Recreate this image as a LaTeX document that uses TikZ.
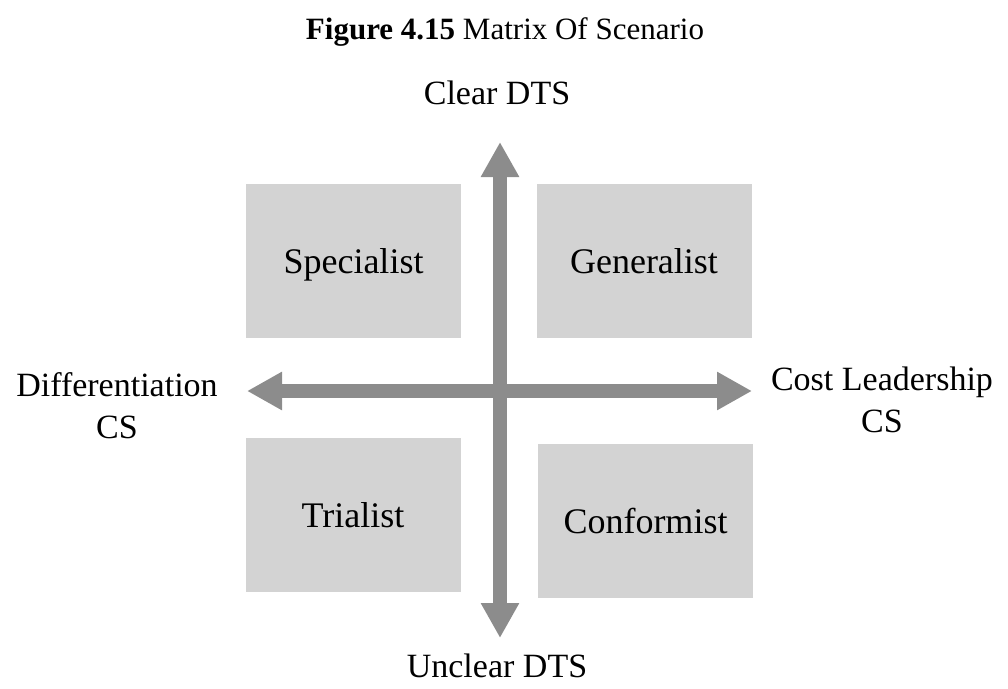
\documentclass[tikz,border=0pt]{standalone}
\usepackage{fontspec}
\setmainfont{Liberation Serif}
\usetikzlibrary{arrows.meta}

\definecolor{boxgray}{RGB}{211,211,211}
\definecolor{axisgray}{RGB}{140,140,140}

\tikzset{
  quadrant/.style={fill=boxgray, draw=none, minimum width=215pt, minimum height=154pt,
    inner sep=0pt, text height=24pt, text depth=0pt, font=\fontsize{36}{42}\selectfont},
  axislabel/.style={font=\fontsize{34}{42}\selectfont, align=center, inner sep=0pt},
  axisline/.style={draw=axisgray, line width=14pt,
    arrows={Triangle[length=35pt, width=36pt, fill=axisgray]-Triangle[length=35pt, width=36pt, fill=axisgray]}},
}

\begin{document}
\begin{tikzpicture}[x=1pt, y=-1pt]
  \useasboundingbox (0,0) rectangle (1008,688);

  % caption
  \node[anchor=base, inner sep=0pt, font=\fontsize{31}{36}\selectfont] (caption) at (505,39)
    {\textbf{Figure 4.15} Matrix Of Scenario};

  % the four quadrants
  \node[quadrant] (specialist) at (353.5,261) {Specialist};
  \node[quadrant] (generalist) at (644,261) {Generalist};
  \node[quadrant] (trialist)   at (353,515) {Trialist};
  \node[quadrant] (conformist) at (645.5,521) {Conformist};

  % axis end points
  \coordinate (ytop) at (500,142);
  \coordinate (ybot) at (500,638);
  \coordinate (xleft) at (247,391);
  \coordinate (xright) at (752,391);

  % axes
  \draw[axisline] (ybot) -- (ytop);
  \draw[axisline] (xleft) -- (xright);

  % axis labels (base = baseline of the last line)
  \node[axislabel, anchor=base] (clear) at (497,104) {Clear DTS};
  \node[axislabel, anchor=base] (unclear) at (497,677) {Unclear DTS};
  \node[axislabel, anchor=base] (diff) at (117,438) {Differentiation\\CS};
  \node[axislabel, anchor=base] (cost) at (882,432) {Cost Leadership\\CS};
\end{tikzpicture}
\end{document}
